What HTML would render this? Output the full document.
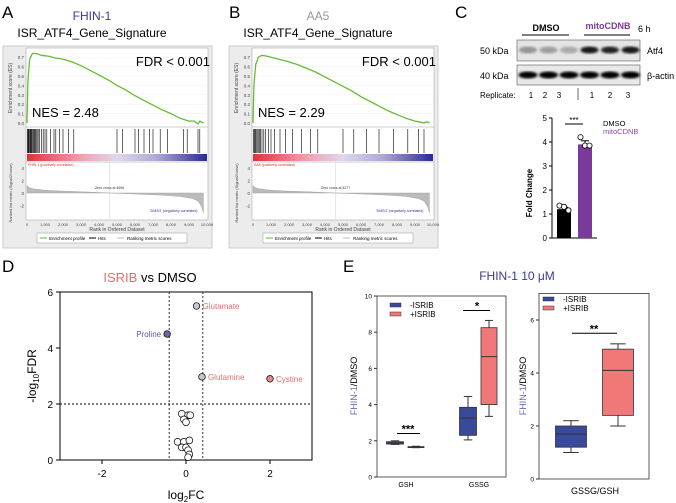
<!DOCTYPE html>
<html><head><meta charset="utf-8"><style>
body{margin:0;background:#fff;width:676px;height:503px;overflow:hidden}
svg{display:block;font-family:"Liberation Sans",Arial,sans-serif}
</style></head><body>
<svg id="fig" width="676" height="503" viewBox="0 0 676 503">
<defs>
<linearGradient id="cbar" x1="0" x2="1"><stop offset="0" stop-color="#e0303a"/><stop offset="0.3" stop-color="#f0a0b0"/><stop offset="0.5" stop-color="#e0d8ec"/><stop offset="0.72" stop-color="#b0a8d8"/><stop offset="1" stop-color="#2a2a90"/></linearGradient>
<filter id="blur"><feGaussianBlur stdDeviation="1.4"/></filter>
</defs>
<g font-size="17" fill="#000">
<text x="2" y="18">A</text>
<text x="229" y="18">B</text>
<text x="455" y="18">C</text>
<text x="2" y="272">D</text>
<text x="343" y="272">E</text>
</g>
<g id="gA"></g>
<g id="gB"></g>
<g id="gC"></g>
<g id="gD"></g>
<g id="gE"></g>
</svg>
<script>
// ---- GSEA data ----
const gseaRanks=[0,50,150,300,500,800,1200,1600,2000,2500,3000,3500,4000,4500,5000,5500,6000,6500,7000,7500,8000,8500,9000,9300,9500,9600,9700,9800];
const esA=[0,0.45,0.68,0.74,0.74,0.72,0.71,0.69,0.68,0.65,0.61,0.56,0.51,0.46,0.40,0.35,0.29,0.24,0.19,0.14,0.10,0.05,0.02,0.02,-0.01,0.02,0.01,0];
const esB=[0,0.40,0.62,0.70,0.72,0.71,0.69,0.67,0.65,0.62,0.58,0.54,0.49,0.44,0.39,0.34,0.28,0.23,0.18,0.13,0.09,0.05,0.02,0.01,0.0,0.01,0.01,0];
const hitsA=[20,60,100,140,180,220,260,300,350,400,450,500,560,620,700,800,900,1000,1100,1300,1500,1600,1800,2000,2300,2600,5000,5300,6000,6200,6500,6800,7000,7400,7800,8700,8900,9500,9600];
const hitsB=[20,70,120,170,230,290,350,420,500,600,700,850,1000,1200,1500,1800,2200,2700,3200,3600,5000,5600,6300,7000,7800,8600,9200,9500];
const metricRanks=[0,100,300,1000,2000,3000,4000,4600,5500,6500,7500,8500,9200,9500,9700,9800];
const metricVals=[1.2,0.9,0.7,0.45,0.3,0.2,0.08,0,-0.1,-0.22,-0.35,-0.55,-0.9,-1.3,-2.2,-3.2];
const esTicks=[0,0.1,0.2,0.3,0.4,0.5,0.6,0.7];
const metricTicks=[4,2,0,-2];
const rankTicks=[0,1000,2000,3000,4000,5000,6000,7000,8000,9000,10000];

const NS="http://www.w3.org/2000/svg";
function el(parent,tag,attrs,text){const e=document.createElementNS(NS,tag);for(const k in attrs)e.setAttribute(k,attrs[k]);if(text!==undefined)e.textContent=text;parent.appendChild(e);return e;}

function gsea(g,ox,title,titleColor,nes,es,hits,zero){
  const xR=r=>ox+27+r/10000*180;
  const yE=v=>123-v*94;
  const yM=v=>193-v*6.2;
  let t=el(g,'text',{x:ox+92,y:20,'font-size':12,fill:titleColor,'text-anchor':'middle'},title);
  
  t=el(g,'text',{x:ox+92,y:37,'font-size':12,'text-anchor':'middle'},'ISR_ATF4_Gene_Signature');
  
  let r=el(g,'rect',{x:ox+3,y:46,width:209,height:202,fill:'#ececec',stroke:'#ccc'});
  
  r=el(g,'rect',{x:ox+26,y:48,width:182,height:172,fill:'#fff',stroke:'#999','stroke-width':0.5});
  
  el(g,'line',{x1:ox+26,x2:ox+208,y1:127,y2:127,stroke:'#999','stroke-width':0.5});
  esTicks.forEach(v=>{
    el(g,'line',{x1:ox+26,x2:ox+208,y1:yE(v),y2:yE(v),stroke:'#eee','stroke-width':0.5});
    const tt=el(g,'text',{x:ox+24,y:yE(v)+2,'font-size':4.5,'text-anchor':'end',fill:'#444'},v.toFixed(1));
    
  });
  el(g,'text',{x:ox+12,y:88,'font-size':5,fill:'#444','text-anchor':'middle',transform:`rotate(-90 ${ox+12} 88)`},'Enrichment score (ES)');
  const pts=gseaRanks.map((k,i)=>xR(k)+','+yE(es[i])).join(' ');
  const pl=el(g,'polyline',{points:pts,fill:'none',stroke:'#66bb33','stroke-width':1.3});
  
  t=el(g,'text',{x:ox+210,y:66,'font-size':13,'text-anchor':'end'},'FDR < 0.001');
  
  t=el(g,'text',{x:ox+32,y:117,'font-size':13},'NES = '+nes);
  
  hits.forEach(h=>{const l=el(g,'line',{x1:xR(h),x2:xR(h),y1:129,y2:153,stroke:'#000','stroke-width':0.6});
    });
  r=el(g,'rect',{x:ox+27,y:154,width:180,height:7,fill:'url(#cbar)'});
  
  el(g,'line',{x1:ox+26,x2:ox+208,y1:162,y2:162,stroke:'#999','stroke-width':0.5});
  el(g,'text',{x:ox+28,y:166,'font-size':3.5,fill:'#d03030'},title+' (positively correlated)');
  el(g,'text',{x:ox+150,y:212,'font-size':3.5,fill:'#3030a0'},"'DMSO' (negatively correlated)");
  el(g,'text',{x:ox+95,y:189,'font-size':3.5,fill:'#333'},'Zero cross at '+zero);
  metricTicks.forEach(v=>el(g,'text',{x:ox+24,y:yM(v)+2,'font-size':4.5,'text-anchor':'end',fill:'#444'},v));
  const mp=[xR(0)+','+yM(0)].concat(metricRanks.map((k,i)=>xR(k)+','+yM(metricVals[i]))).concat([xR(9800)+','+yM(0)]).join(' ');
  const poly=el(g,'polygon',{points:mp,fill:'#bbb',stroke:'#999','stroke-width':0.4});
  
  el(g,'line',{x1:xR(4600),x2:xR(4600),y1:163,y2:219,stroke:'#ccc','stroke-width':0.5});
  el(g,'text',{x:ox+12,y:193,'font-size':4,fill:'#444','text-anchor':'middle',transform:`rotate(-90 ${ox+12} 193)`},'Ranked list metric (Signal2Noise)');
  rankTicks.forEach(v=>{const tt=el(g,'text',{x:xR(v),y:226,'font-size':4,'text-anchor':'middle',fill:'#444'},v.toLocaleString('en-US'));
    });
  el(g,'text',{x:ox+117,y:231,'font-size':5,'text-anchor':'middle',fill:'#444'},'Rank in Ordered Dataset');
  const lg=el(g,'g',{});
  el(lg,'rect',{x:ox+37,y:233,width:150,height:10,fill:'#fff',stroke:'#999','stroke-width':0.5});
  el(lg,'line',{x1:ox+40,x2:ox+47,y1:238,y2:238,stroke:'#66bb33'});
  el(lg,'text',{x:ox+49,y:240,'font-size':4.5},'Enrichment profile');
  el(lg,'line',{x1:ox+89,x2:ox+96,y1:238,y2:238,stroke:'#000'});
  el(lg,'text',{x:ox+98,y:240,'font-size':4.5},'Hits');
  el(lg,'line',{x1:ox+117,x2:ox+124,y1:238,y2:238,stroke:'#bbb'});
  el(lg,'text',{x:ox+127,y:240,'font-size':4.5},'Ranking metric scores');
}
gsea(document.getElementById('gA'),0,'FHIN-1','#3a3a9a','2.48',esA,hitsA,4696);
gsea(document.getElementById('gB'),226,'AA5','#999','2.29',esB,hitsB,5277);

// ---- Panel C ----
const cGroups=['DMSO','mitoCDNB'];
const cMeans=[1.2,3.9];
const cErr=[0.08,0.15];
const cPoints=[[1.35,1.3,1.15],[4.2,3.85,3.85]];
const cYTicks=[0,1,2,3,4,5];
const cColors=['#000','#7a3a9a'];
(function(){
  const g=document.getElementById('gC');
  const yC=v=>238-v*24;
  const xC=i=>564+i*21;
  let t;
  t=el(g,'text',{x:546,y:31,'font-size':9,'font-weight':'bold','text-anchor':'middle'},'DMSO');
  t=el(g,'text',{x:608,y:29,'font-size':9,'font-weight':'bold','text-anchor':'middle',fill:'#7a3a9a'},'mitoCDNB');
  el(g,'line',{x1:522,x2:569,y1:35,y2:35,stroke:'#000','stroke-width':1});
  el(g,'line',{x1:584,x2:630,y1:35,y2:35,stroke:'#000','stroke-width':1});
  el(g,'text',{x:638,y:32,'font-size':9},'6 h');
  el(g,'text',{x:480,y:54,'font-size':9},'50 kDa');
  el(g,'text',{x:480,y:79,'font-size':9},'40 kDa');
  el(g,'text',{x:647,y:54,'font-size':9},'Atf4');
  el(g,'text',{x:647,y:79,'font-size':9},'β-actin');
  const b1=el(g,'rect',{x:517,y:40,width:123,height:21,fill:'#e4e4e4',stroke:'#555','stroke-width':0.6});
  
  const b2=el(g,'rect',{x:517,y:65,width:123,height:20,fill:'#e8e8e8',stroke:'#555','stroke-width':0.6});
  
  const atf=[0.35,0.3,0.25,0.9,0.85,0.9];
  for(let i=0;i<6;i++){const cx=528+i*20.5;
    el(g,'ellipse',{cx:cx,cy:50,rx:9,ry:3.5,fill:'#000',opacity:atf[i],filter:'url(#blur)'});
    el(g,'ellipse',{cx:cx,cy:75,rx:9.5,ry:3.5,fill:'#000',filter:'url(#blur)'});
  }
  el(g,'text',{x:480,y:98,'font-size':8},'Replicate:');
  const repX=[531,545,559,592,610,628];
  [1,2,3,1,2,3].forEach((n,i)=>el(g,'text',{x:repX[i],y:98,'font-size':8,'text-anchor':'middle'},n));
  el(g,'line',{x1:578,x2:578,y1:88,y2:100,stroke:'#000','stroke-width':0.6});
  // bar chart
  el(g,'line',{x1:552,x2:552,y1:yC(5),y2:yC(0),stroke:'#000'});
  el(g,'line',{x1:552,x2:597,y1:yC(0),y2:yC(0),stroke:'#000'});
  cYTicks.forEach(v=>{el(g,'line',{x1:549,x2:552,y1:yC(v),y2:yC(v),stroke:'#000'});
    const tt=el(g,'text',{x:547,y:yC(v)+3,'font-size':8,'text-anchor':'end'},v);});
  el(g,'text',{x:532,y:193,'font-size':8,'font-weight':'bold','text-anchor':'middle',transform:'rotate(-90 532 193)'},'Fold Change');
  cMeans.forEach((m,i)=>{
    const b=el(g,'rect',{x:xC(i)-7,y:yC(m),width:14,height:yC(0)-yC(m),fill:cColors[i]});
    
    el(g,'line',{x1:xC(i),x2:xC(i),y1:yC(m+cErr[i]),y2:yC(m),stroke:'#000'});
    el(g,'line',{x1:xC(i)-4,x2:xC(i)+4,y1:yC(m+cErr[i]),y2:yC(m+cErr[i]),stroke:'#000'});
    cPoints[i].forEach((p,j)=>{const c=el(g,'circle',{cx:xC(i)+(j-1)*4.5,cy:yC(p),r:2.6,fill:'#fff',stroke:'#000','stroke-width':0.8});
      });
  });
  el(g,'line',{x1:565,x2:583,y1:yC(4.75),y2:yC(4.75),stroke:'#000'});
  el(g,'text',{x:574,y:yC(4.75)-1,'font-size':8,'text-anchor':'middle'},'***');
  el(g,'text',{x:603,y:126,'font-size':7.5},'DMSO');
  el(g,'text',{x:603,y:134,'font-size':7.5,fill:'#8a4aaa'},'mitoCDNB');
})();

// ---- Panel D volcano ----
const dNames=['Glutamate','Proline','Glutamine','Cystine'];
const dFC=[0.25,-0.45,0.38,2.0];
const dFDR=[5.5,4.5,2.97,2.9];
const dFill=['#c8c8c8','#6a6aa8','#c8c8c8','#e08a8a'];
const dLabelColor=['#e07070','#5a5a9a','#e07070','#e07070'];
const nsFC=[-0.1,0.05,0.1,-0.05,0,-0.2,-0.05,0.08,-0.1,0,0.05,0.08,0.05];
const nsFDR=[1.65,1.6,1.6,1.45,1.35,0.65,0.65,0.7,0.45,0.45,0.35,0.2,0.1];
const dXTicks=[-2,0,2];
const dYTicks=[0,2,4,6];
(function(){
  const g=document.getElementById('gD');
  const xD=v=>186+v*42, yD=v=>460-v*28;
  let t=el(g,'text',{x:150,y:282,'font-size':13,'text-anchor':'middle'});
  el(t,'tspan',{fill:'#e07070'},'ISRIB');el(t,'tspan',{},' vs DMSO');
  
  const fr=el(g,'rect',{x:xD(-3),y:yD(6),width:xD(3)-xD(-3),height:yD(0)-yD(6),fill:'none',stroke:'#000'});
  
  [-0.4,0.4].forEach(v=>el(g,'line',{x1:xD(v),x2:xD(v),y1:yD(6),y2:yD(0),stroke:'#333','stroke-dasharray':'2,2'}));
  el(g,'line',{x1:xD(-3),x2:xD(3),y1:yD(2),y2:yD(2),stroke:'#000','stroke-dasharray':'2,2'});
  dXTicks.forEach(v=>{el(g,'line',{x1:xD(v),x2:xD(v),y1:yD(0),y2:yD(0)+4,stroke:'#000'});
    const tt=el(g,'text',{x:xD(v),y:477,'font-size':10,'text-anchor':'middle'},v);});
  dYTicks.forEach(v=>{el(g,'line',{x1:xD(-3)-4,x2:xD(-3),y1:yD(v),y2:yD(v),stroke:'#000'});
    const tt=el(g,'text',{x:53,y:yD(v)+4,'font-size':10,'text-anchor':'end'},v);});
  t=el(g,'text',{x:186,y:499,'font-size':12,'text-anchor':'middle'});el(t,'tspan',{},'log');el(t,'tspan',{'font-size':8,dy:3},'2');el(t,'tspan',{dy:-3},'FC');
  
  t=el(g,'text',{x:36,y:376,'font-size':12,'text-anchor':'middle',transform:'rotate(-90 36 376)'});el(t,'tspan',{},'-log');el(t,'tspan',{'font-size':8,dy:3},'10');el(t,'tspan',{dy:-3},'FDR');
  
  nsFC.forEach((v,i)=>{const c=el(g,'circle',{cx:xD(v),cy:yD(nsFDR[i]),r:3.4,fill:'#fff',stroke:'#000','stroke-width':0.7});
    });
  dNames.forEach((n,i)=>{const c=el(g,'circle',{cx:xD(dFC[i]),cy:yD(dFDR[i]),r:3.3,fill:dFill[i],stroke:'#000','stroke-width':0.7});
    
    const left=dFC[i]<0;
    const tt=el(g,'text',{x:xD(dFC[i])+(left?-6:6),y:yD(dFDR[i])+3,'font-size':8,fill:dLabelColor[i],'text-anchor':left?'end':'start'},n);
    });
})();

// ---- Panel E boxplots ----
const eCats=['GSH','GSSG'];
const eMinus=[[1.8,1.82,1.88,1.95,2.0],[2.05,2.3,3.25,3.85,4.45]];
const ePlus=[[1.62,1.64,1.66,1.68,1.7],[3.35,4.0,6.65,8.25,8.65]];
const ratioMinus=[1.0,1.2,1.7,2.0,2.2];
const ratioPlus=[2.0,2.4,4.1,4.9,5.1];
const e1Ticks=[0,2,4,6,8,10];
const e2Ticks=[0,2,4,6];
(function(){
  const g=document.getElementById('gE');
  const blue='#3a4a9a', pink='#f07878';
  let t=el(g,'text',{x:517,y:280,'font-size':12,'text-anchor':'middle',fill:'#3a3a8a'},'FHIN-1 10 μM');
  
  function box(yF,cx,w,v,col,name){
    const gg=el(g,'g',{});
    el(gg,'line',{x1:cx,x2:cx,y1:yF(v[0]),y2:yF(v[4]),stroke:'#333'});
    el(gg,'line',{x1:cx-w/4,x2:cx+w/4,y1:yF(v[0]),y2:yF(v[0]),stroke:'#333'});
    el(gg,'line',{x1:cx-w/4,x2:cx+w/4,y1:yF(v[4]),y2:yF(v[4]),stroke:'#333'});
    el(gg,'rect',{x:cx-w/2,y:yF(v[3]),width:w,height:Math.max(1,yF(v[1])-yF(v[3])),fill:col,stroke:'#333','stroke-width':0.8});
    el(gg,'line',{x1:cx-w/2,x2:cx+w/2,y1:yF(v[2]),y2:yF(v[2]),stroke:'#333'});
  }
  function legend(x,y){
    const lg=el(g,'g',{});
    el(lg,'rect',{x:x,y:y,width:11,height:4,fill:blue,stroke:'#333','stroke-width':0.5});
    el(lg,'text',{x:x+20,y:y+5,'font-size':8},'-ISRIB');
    el(lg,'rect',{x:x,y:y+9,width:11,height:4,fill:pink,stroke:'#333','stroke-width':0.5});
    el(lg,'text',{x:x+20,y:y+14,'font-size':8},'+ISRIB');
  }
  function ylab(x,y){const tt=el(g,'text',{x:x,y:y,'font-size':9,'text-anchor':'middle',transform:`rotate(-90 ${x} ${y})`});
    el(tt,'tspan',{fill:'#6a6ab8'},'FHIN-1');el(tt,'tspan',{},'/DMSO');}
  const y1=v=>477-v*18.1;
  let fr=el(g,'rect',{x:377,y:y1(10),width:129,height:y1(0)-y1(10),fill:'none',stroke:'#333','stroke-width':0.8});
  
  e1Ticks.forEach(v=>{el(g,'line',{x1:374,x2:377,y1:y1(v),y2:y1(v),stroke:'#333'});
    el(g,'text',{x:372,y:y1(v)+2.5,'font-size':6.5,'text-anchor':'end'},v);});
  const cx1=[403,476];
  eCats.forEach((c,i)=>{
    box(y1,cx1[i]-8,17,eMinus[i],blue,'box-'+c.toLowerCase()+'-minus-isrib');
    box(y1,cx1[i]+13,16,ePlus[i],pink,'box-'+c.toLowerCase()+'-plus-isrib');
    const tt=el(g,'text',{x:cx1[i]+3,y:487,'font-size':7,'text-anchor':'middle'},c);
  });
  el(g,'line',{x1:397,x2:420,y1:y1(2.4),y2:y1(2.4),stroke:'#000'});
  el(g,'text',{x:408,y:y1(2.4)-1,'font-size':11,'text-anchor':'middle','font-weight':'bold'},'***');
  el(g,'line',{x1:463,x2:490,y1:y1(9.2),y2:y1(9.2),stroke:'#000'});
  el(g,'text',{x:477,y:y1(9.2)-1,'font-size':11,'text-anchor':'middle','font-weight':'bold'},'*');
  legend(390,303);ylab(357,386);
  const y2=v=>479-v*26.5;
  fr=el(g,'rect',{x:539,y:y2(7),width:110,height:y2(0)-y2(7),fill:'none',stroke:'#333','stroke-width':0.8});
  
  e2Ticks.forEach(v=>{el(g,'line',{x1:536,x2:539,y1:y2(v),y2:y2(v),stroke:'#333'});
    el(g,'text',{x:534,y:y2(v)+2.5,'font-size':6.5,'text-anchor':'end'},v);});
  box(y2,571,31,ratioMinus,blue,'box-ratio-minus-isrib');
  box(y2,618,31,ratioPlus,pink,'box-ratio-plus-isrib');
  el(g,'line',{x1:572,x2:617,y1:y2(5.5),y2:y2(5.5),stroke:'#000'});
  el(g,'text',{x:594,y:y2(5.5)-1,'font-size':11,'text-anchor':'middle','font-weight':'bold'},'**');
  t=el(g,'text',{x:595,y:494,'font-size':9,'text-anchor':'middle'},'GSSG/GSH');
  legend(543,297);ylab(526,386);
})();
</script>
</body></html>
